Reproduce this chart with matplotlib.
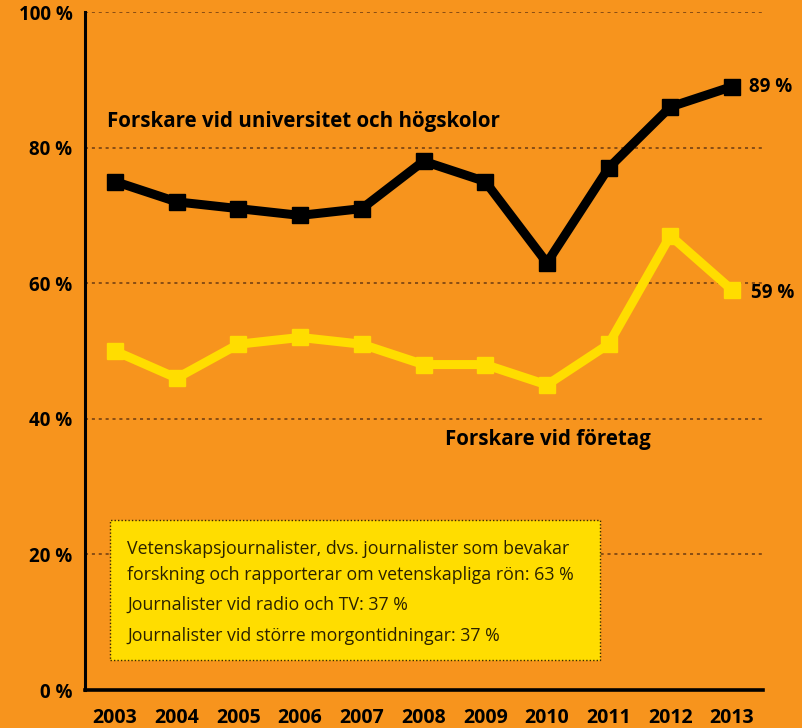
import matplotlib
matplotlib.use("Agg")
import matplotlib.pyplot as plt
from matplotlib.patches import Rectangle

years = [2003, 2004, 2005, 2006, 2007, 2008, 2009, 2010, 2011, 2012, 2013]
universitet = [75, 72, 71, 70, 71, 78, 75, 63, 77, 86, 89]
foretag = [50, 46, 51, 52, 51, 48, 48, 45, 51, 67, 59]
yticks = [0, 20, 40, 60, 80, 100]
ytick_labels = ["0 %", "20 %", "40 %", "60 %", "80 %", "100 %"]
box_lines = [
    "Vetenskapsjournalister, dvs. journalister som bevakar\nforskning och rapporterar om vetenskapliga rön: 63 %",
    "Journalister vid radio och TV: 37 %",
    "Journalister vid större morgontidningar: 37 %",
]

ORANGE = "#F7941D"
YELLOW = "#FFDD00"
GRID = "#6b3a12"
FONT = "Open Sans"

fig = plt.figure(figsize=(8.03, 7.28), dpi=100, facecolor=ORANGE)
ax = fig.add_axes([85/803, 1-690/728, (763-85)/803, (690-12)/728])
ax.set_facecolor(ORANGE)
ax.set_xlim(2002.514, 2013.502)
ax.set_ylim(0, 100)

for s in ["top", "right"]:
    ax.spines[s].set_visible(False)
ax.spines["left"].set_linewidth(2.2)
ax.spines["bottom"].set_linewidth(2.6)
ax.spines["left"].set_color("black")
ax.spines["bottom"].set_color("black")

for y in yticks[1:]:
    ax.axhline(y, color=GRID, linestyle=(0, (2, 2.5)), linewidth=1.1, zorder=1)

ax.set_yticks(yticks)
ax.set_yticklabels(ytick_labels, fontfamily=FONT, fontweight="bold", fontsize=13.5)
ax.set_xticks(years)
ax.set_xticklabels([str(y) for y in years], fontfamily=FONT, fontweight="bold", fontsize=14)
ax.tick_params(axis="y", length=0, pad=9)
ax.tick_params(axis="x", length=0, pad=13)

ax.plot(years, universitet, color="black", linewidth=6.5, marker="s", markersize=12,
        solid_joinstyle="miter", zorder=4, clip_on=False)
ax.plot(years, foretag, color=YELLOW, linewidth=6.5, marker="s", markersize=12,
        solid_joinstyle="miter", zorder=4, clip_on=False)

ax.text(2003 - 0.13, 83.9, "Forskare vid universitet och högskolor", fontfamily=FONT,
        fontweight="bold", fontsize=14.8, ha="left", va="center")
ax.text(2008.35, 37.0, "Forskare vid företag", fontfamily=FONT,
        fontweight="bold", fontsize=14.8, ha="left", va="center")
ax.text(2013.28, universitet[-1], f"{universitet[-1]} %", fontfamily=FONT, fontweight="bold",
        fontsize=13.5, ha="left", va="center", clip_on=False)
ax.text(2013.31, foretag[-1] - 0.5, f"{foretag[-1]} %", fontfamily=FONT, fontweight="bold",
        fontsize=13.5, ha="left", va="center", clip_on=False)

# info box
bx0 = 2002.514 + (110-85)/61.7
bx1 = 2002.514 + (600-85)/61.7
by0 = (690-660)/6.78
by1 = (690-520)/6.78
ax.add_patch(Rectangle((bx0, by0), bx1-bx0, by1-by0, facecolor=YELLOW, edgecolor="#3a2a00",
                       linestyle=(0, (1, 1.5)), linewidth=1.0, zorder=3))
tx = 2002.514 + (127-85)/61.7
ax.text(tx, (690-562)/6.78, box_lines[0], fontfamily=FONT, fontsize=12.8, color="#2b2200",
        ha="left", va="center", linespacing=1.5, zorder=5)
ax.text(tx, (690-605)/6.78, box_lines[1], fontfamily=FONT, fontsize=12.8, color="#2b2200",
        ha="left", va="center", zorder=5)
ax.text(tx, (690-636)/6.78, box_lines[2], fontfamily=FONT, fontsize=12.8, color="#2b2200",
        ha="left", va="center", zorder=5)

fig.savefig("out.png", dpi=100, facecolor=ORANGE)
